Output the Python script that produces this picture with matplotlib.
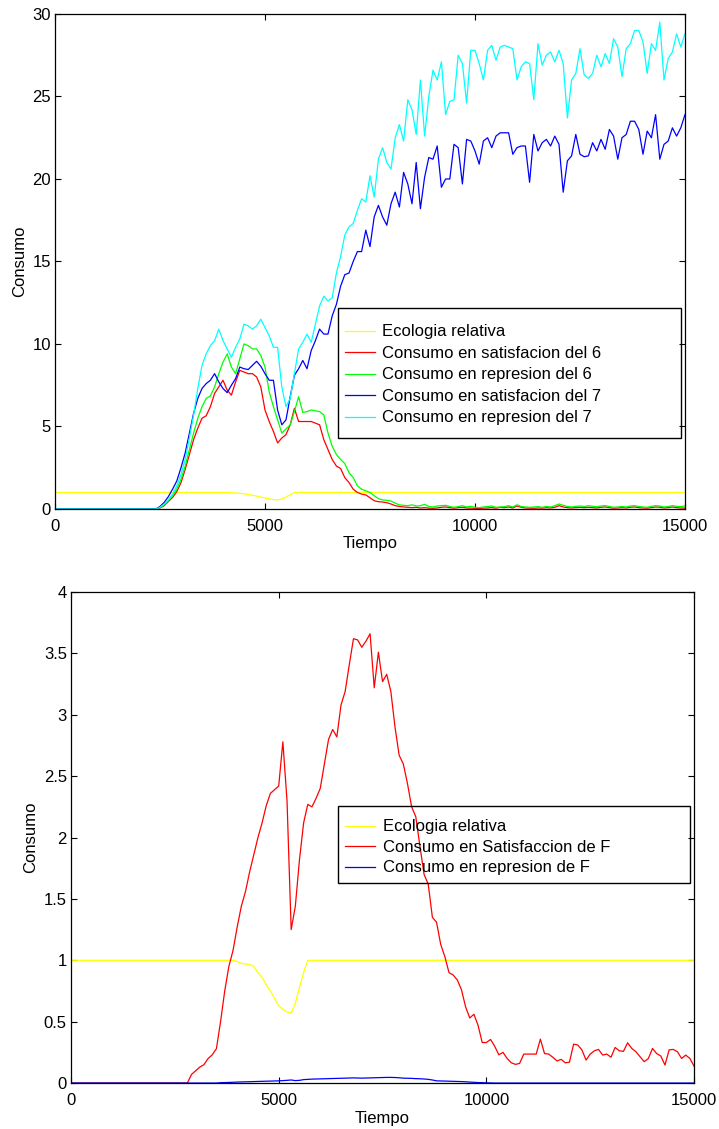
import matplotlib
matplotlib.use("Agg")
import matplotlib.pyplot as plt
from matplotlib.patches import Rectangle

plt.rcParams['font.family'] = ['Liberation Sans', 'DejaVu Sans']
plt.rcParams['xtick.direction'] = 'in'
plt.rcParams['ytick.direction'] = 'in'
plt.rcParams['xtick.top'] = True
plt.rcParams['ytick.right'] = True
plt.rcParams['xtick.major.size'] = 4
plt.rcParams['ytick.major.size'] = 4
plt.rcParams['axes.linewidth'] = 0.9

# time axis, one sample every 100 steps
tiempo = list(range(0, 15100, 100))

# ---- top chart: consumers 6 and 7 ----
eco_top = [1.0] * 40 + [
    1.0, 0.99, 0.98, 0.97, 0.95, 0.92, 0.88, 0.83, 0.78, 0.72,
    0.66, 0.61, 0.57, 0.55, 0.6, 0.72, 0.86, 1.0, 1.0, 1.0,
] + [1.0] * 91

satis_6 = [0.0] * 25 + [
    0.06, 0.2, 0.45, 0.7, 1.05,
    1.6, 2.4, 3.3, 4.2, 4.9, 5.5, 5.65, 6.2, 7.0, 7.4,
    7.8, 7.2, 6.9, 7.7, 8.4, 8.3, 8.2, 8.2, 8.0, 7.4,
    6.0, 5.3, 4.7, 4.0, 4.3, 4.5, 5.1, 6.1, 5.3, 5.3,
    5.3, 5.3, 5.2, 5.1, 4.2, 3.6, 3.0, 2.6, 2.45, 1.9,
    1.6, 1.2, 1.0, 0.9, 0.85, 0.68, 0.5, 0.44, 0.42, 0.38,
    0.3, 0.2, 0.15, 0.12, 0.1, 0.08, 0.1, 0.06, 0.08, 0.05,
    0.04, 0.06, 0.1, 0.12, 0.08, 0.05, 0.08, 0.1, 0.06, 0.05,
    0.04, 0.03, 0.05, 0.06, 0.08, 0.05, 0.1, 0.08, 0.12, 0.06,
    0.18, 0.1, 0.06, 0.05, 0.04, 0.06, 0.05, 0.08, 0.06, 0.1,
    0.2, 0.12, 0.08, 0.06, 0.08, 0.1, 0.08, 0.1, 0.08, 0.06,
    0.1, 0.12, 0.08, 0.05, 0.06, 0.08, 0.06, 0.1, 0.12, 0.08,
    0.06, 0.05, 0.08, 0.12, 0.1, 0.06, 0.08, 0.12, 0.08, 0.06,
    0.05,
]

repre_6 = [0.0] * 25 + [
    0.08, 0.25, 0.5, 0.8, 1.2,
    1.8, 2.6, 3.6, 4.6, 5.5, 6.2, 6.7, 6.85, 7.4, 8.2,
    8.9, 9.4, 8.6, 8.2, 9.1, 10.0, 9.9, 9.7, 9.7, 9.3,
    8.6, 7.1, 6.2, 5.4, 4.6, 4.85, 5.1, 5.9, 6.8, 5.85,
    5.9, 6.0, 5.95, 5.9, 5.7, 4.6, 3.8, 3.3, 3.0, 2.75,
    2.2, 1.9, 1.4, 1.2, 1.1, 1.0, 0.8, 0.62, 0.55, 0.52,
    0.48, 0.35, 0.25, 0.22, 0.2, 0.25, 0.18, 0.2, 0.28, 0.15,
    0.12, 0.18, 0.2, 0.22, 0.15, 0.1, 0.14, 0.2, 0.12, 0.16,
    0.1, 0.08, 0.12, 0.15, 0.18, 0.1, 0.12, 0.14, 0.2, 0.12,
    0.25, 0.15, 0.12, 0.1, 0.12, 0.14, 0.1, 0.15, 0.12, 0.2,
    0.3, 0.22, 0.15, 0.12, 0.16, 0.18, 0.15, 0.2, 0.16, 0.14,
    0.18, 0.2, 0.15, 0.1, 0.12, 0.15, 0.12, 0.18, 0.2, 0.15,
    0.12, 0.1, 0.16, 0.2, 0.18, 0.12, 0.15, 0.2, 0.16, 0.14,
    0.18,
]

satis_7 = [0.0] * 25 + [
    0.15, 0.4, 0.75, 1.2, 1.7,
    2.5, 3.4, 4.6, 5.8, 6.7, 7.3, 7.6, 7.8, 8.2, 7.7,
    7.3, 7.05, 7.5, 7.9, 8.6, 8.5, 8.45, 8.7, 8.95, 8.65,
    8.2, 7.8, 7.8, 6.0, 5.1, 5.4, 6.8, 8.1, 8.5, 9.0,
    8.5, 9.6, 10.2, 10.9, 10.6, 10.6, 11.7, 12.4, 13.5, 14.2,
    14.3, 15.0, 15.6, 15.6, 16.9, 15.9, 17.7, 18.4, 17.7, 17.2,
    18.5, 19.2, 18.3, 20.4, 19.7, 18.5, 21.0, 18.2, 20.1, 21.3,
    21.2, 22.0, 19.5, 20.0, 20.0, 22.1, 21.9, 19.7, 22.4, 22.3,
    21.7, 20.9, 22.3, 22.5, 21.9, 22.6, 22.8, 22.8, 22.8, 21.5,
    21.9, 22.0, 22.0, 19.8, 22.7, 21.7, 22.2, 22.4, 22.0, 22.6,
    22.1, 19.2, 21.1, 21.4, 22.7, 21.5, 21.35, 21.4, 22.2, 21.7,
    22.4, 21.8, 23.0, 22.6, 21.2, 22.5, 22.7, 23.5, 23.5, 23.0,
    21.5, 22.9, 22.5, 23.9, 21.2, 22.1, 22.3, 23.1, 22.6, 23.1,
    23.9,
]

repre_7 = [0.0] * 25 + [
    0.1, 0.3, 0.55, 0.9, 1.4,
    2.1, 3.0, 4.3, 5.7, 7.3, 8.7, 9.4, 9.9, 10.2, 10.9,
    10.2, 9.7, 9.2, 9.8, 10.3, 11.2, 11.1, 10.9, 11.1, 11.5,
    11.0, 10.5, 9.8, 9.8, 7.4, 6.2, 6.7, 8.2, 9.7, 10.1,
    10.6, 10.1, 11.2, 12.3, 12.9, 12.6, 12.8, 14.3, 15.3, 16.6,
    17.1, 17.3, 18.1, 18.8, 18.6, 20.2, 18.9, 21.2, 21.9, 21.0,
    20.6, 22.5, 23.3, 22.3, 24.8, 24.2, 22.7, 26.0, 22.6, 25.0,
    26.6, 26.0, 27.1, 23.9, 24.7, 24.8, 27.5, 27.0, 24.6, 27.8,
    27.8, 27.0, 26.0, 27.8, 28.1, 27.2, 28.0, 28.1, 28.0, 27.9,
    26.0, 26.8, 27.1, 27.0, 24.8, 28.2, 26.9, 27.5, 27.7, 27.1,
    27.8, 27.0, 23.7, 26.0, 26.4, 27.9, 26.3, 26.1, 26.4, 27.5,
    26.8, 27.6, 27.0, 28.5, 28.0, 26.2, 27.9, 28.2, 29.0, 29.0,
    28.3, 26.4, 28.2, 27.8, 29.5, 26.0, 27.3, 27.7, 28.8, 28.0,
    28.8,
]

# ---- bottom chart: consumer F ----
eco_bot = [1.0] * 40 + [
    0.99, 0.975, 0.97, 0.965, 0.95, 0.9, 0.86, 0.8, 0.75, 0.69,
    0.63, 0.6, 0.58, 0.57, 0.65, 0.78, 0.9, 1.0, 1.0, 1.0,
] + [1.0] * 91

satis_F = [0.0] * 29 + [
    0.07,
    0.1, 0.13, 0.15, 0.2, 0.23, 0.28, 0.5, 0.75, 0.95, 1.08,
    1.27, 1.44, 1.56, 1.72, 1.86, 2.0, 2.12, 2.26, 2.36, 2.39,
    2.42, 2.78, 2.3, 1.25, 1.44, 1.82, 2.12, 2.27, 2.25, 2.32,
    2.4, 2.6, 2.8, 2.88, 2.82, 3.08, 3.19, 3.41, 3.62, 3.61,
    3.55, 3.6, 3.66, 3.22, 3.51, 3.27, 3.33, 3.19, 2.9, 2.67,
    2.6, 2.44, 2.25, 2.17, 1.93, 1.7, 1.62, 1.35, 1.31, 1.13,
    1.03, 0.9, 0.88, 0.84, 0.76, 0.62, 0.53, 0.56, 0.47, 0.33,
    0.33, 0.355, 0.3, 0.23, 0.25, 0.2, 0.165, 0.152, 0.16, 0.236,
    0.236, 0.236, 0.236, 0.358, 0.24, 0.236, 0.21, 0.18, 0.193, 0.165,
    0.17, 0.317, 0.31, 0.27, 0.187, 0.236, 0.263, 0.274, 0.228, 0.236,
    0.21, 0.29, 0.263, 0.258, 0.328, 0.282, 0.255, 0.214, 0.174, 0.2,
    0.282, 0.24, 0.22, 0.147, 0.27, 0.274, 0.255, 0.2, 0.228, 0.2,
    0.138,
]

repre_F = [0.0] * 36 + [
    0.003, 0.004, 0.005, 0.006,
    0.008, 0.009, 0.01, 0.011, 0.012, 0.013, 0.014, 0.015, 0.016, 0.017,
    0.018, 0.02, 0.022, 0.025, 0.02, 0.022, 0.028, 0.03, 0.032, 0.033,
    0.034, 0.035, 0.036, 0.037, 0.038, 0.039, 0.04, 0.041, 0.042, 0.041,
    0.04, 0.041, 0.042, 0.043, 0.044, 0.045, 0.046, 0.046, 0.045, 0.043,
    0.04, 0.039, 0.038, 0.036, 0.035, 0.033, 0.03, 0.025, 0.018, 0.017,
    0.016, 0.015, 0.014, 0.013, 0.012, 0.01, 0.008, 0.006, 0.004, 0.003,
    0.002, 0.001,
] + [0.0] * 49

FS = 12
LW = 0.9


def boxed_legend(ax, box, anchor, spacing):
    # MATLAB-like legend: plain black box, entries placed inside it
    ax.add_patch(Rectangle((box[0], box[1]), box[2], box[3], transform=ax.transAxes,
                           fill=False, edgecolor='black', lw=1.0, zorder=6))
    ax.legend(loc='upper left', bbox_to_anchor=anchor, borderaxespad=0, borderpad=0,
              frameon=False, fontsize=FS, handlelength=1.8, handletextpad=0.45,
              labelspacing=spacing)


fig = plt.figure(figsize=(7.19, 11.29), dpi=100)

# top axes
ax1 = fig.add_axes([0.0765, 0.5492, 0.8762, 0.4384])
ax1.plot(tiempo, eco_top, color=(1, 1, 0), lw=LW, label='Ecologia relativa')
ax1.plot(tiempo, satis_6, color=(1, 0, 0), lw=LW, label='Consumo en satisfacion del 6')
ax1.plot(tiempo, repre_6, color=(0, 1, 0), lw=LW, label='Consumo en represion del 6')
ax1.plot(tiempo, satis_7, color=(0, 0, 1), lw=LW, label='Consumo en satisfacion del 7')
ax1.plot(tiempo, repre_7, color=(0, 1, 1), lw=LW, label='Consumo en represion del 7')
ax1.set_xlim(0, 15000)
ax1.set_ylim(0, 30)
ax1.set_xticks([0, 5000, 10000, 15000])
ax1.set_yticks([0, 5, 10, 15, 20, 25, 30])
ax1.set_xlabel('Tiempo', fontsize=FS, labelpad=2)
ax1.set_ylabel('Consumo', fontsize=FS, labelpad=4)
ax1.tick_params(labelsize=FS)
ax1.tick_params(axis='x', pad=7)
ax1.tick_params(axis='y', pad=3)
boxed_legend(ax1, (0.449, 0.1434, 0.5447, 0.2626), (0.4603, 0.373), 0.39)

# bottom axes
ax2 = fig.add_axes([0.0988, 0.0407, 0.8665, 0.4349])
ax2.plot(tiempo, eco_bot, color=(1, 1, 0), lw=LW, label='Ecologia relativa')
ax2.plot(tiempo, satis_F, color=(1, 0, 0), lw=LW, label='Consumo en Satisfaccion de F')
ax2.plot(tiempo, repre_F, color=(0, 0, 1), lw=LW, label='Consumo en represion de F')
ax2.set_xlim(0, 15000)
ax2.set_ylim(0, 4)
ax2.set_xticks([0, 5000, 10000, 15000])
ax2.set_yticks([0, 0.5, 1, 1.5, 2, 2.5, 3, 3.5, 4])
ax2.set_yticklabels(['0', '0.5', '1', '1.5', '2', '2.5', '3', '3.5', '4'])
ax2.set_xlabel('Tiempo', fontsize=FS, labelpad=2)
ax2.set_ylabel('Consumo', fontsize=FS, labelpad=4)
ax2.tick_params(labelsize=FS)
ax2.tick_params(axis='x', pad=7)
ax2.tick_params(axis='y', pad=3)
boxed_legend(ax2, (0.4286, 0.407, 0.565, 0.157), (0.4398, 0.537), 0.33)

fig.savefig('out.png', dpi=100)
